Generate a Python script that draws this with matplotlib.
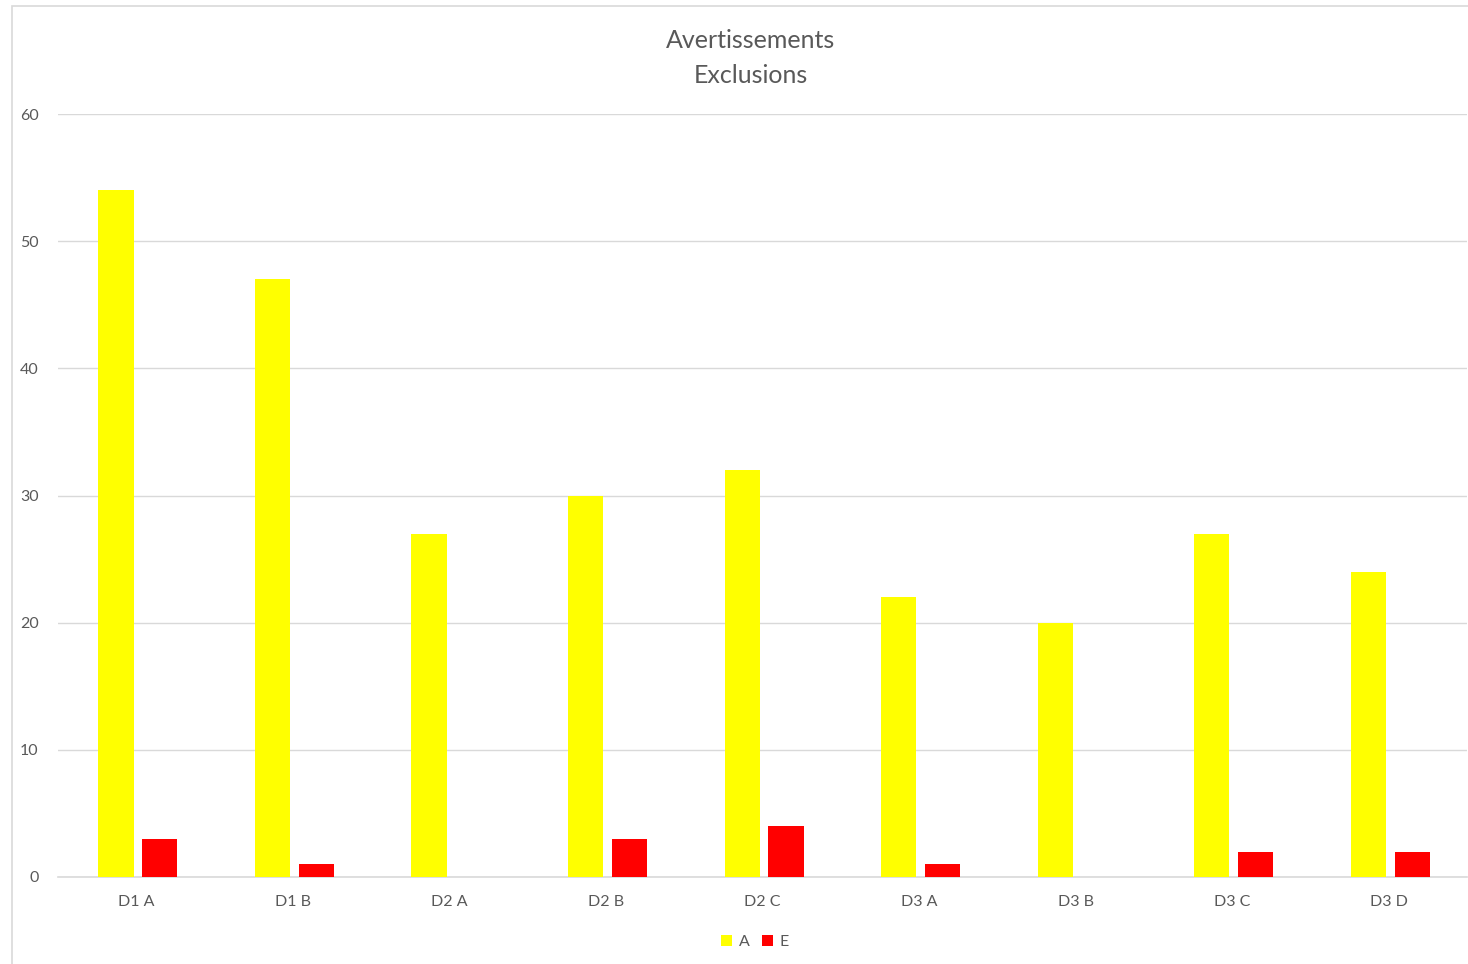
import numpy as np
from matplotlib import pyplot as plt
from matplotlib.patches import Rectangle

# donnees
categories = ["D1 A", "D1 B", "D2 A", "D2 B", "D2 C", "D3 A", "D3 B", "D3 C", "D3 D"]
avert = [54, 47, 27, 30, 32, 22, 20, 27, 24]
excl = [3, 1, 0, 3, 4, 1, 0, 2, 2]

plt.rcParams['font.family'] = ['Lato', 'DejaVu Sans']

fig = plt.figure(figsize=(14.68, 9.64), dpi=100)
ax = fig.add_axes([58 / 1468, 1 - 877 / 964, 1409 / 1468, (877 - 114) / 964])

x = np.arange(len(categories))
w = 0.225
ax.bar(x - 0.13, avert, width=w, color="#ffff00", label="A", zorder=3)
ax.bar(x + 0.15, excl, width=w, color="#ff0000", label="E", zorder=3)

ax.set_xlim(-0.5, len(categories) - 0.5)
ax.set_ylim(0, 60)
ax.set_yticks(range(0, 61, 10))
ax.set_xticks(x)
ax.set_xticklabels(categories)
ax.tick_params(length=0, labelsize=11.5, labelcolor="#595959")
ax.tick_params(axis="x", pad=13)
ax.tick_params(axis="y", pad=14)
ax.grid(axis="y", color="#d9d9d9", linewidth=1, zorder=0)
for s in ["top", "right", "left"]:
    ax.spines[s].set_visible(False)
ax.spines["bottom"].set_color("#d9d9d9")
ax.spines["bottom"].set_linewidth(1.2)

fig.text(751 / 1468, 1 - 58 / 964, "Avertissements\nExclusions", ha="center", va="center",
         fontsize=18, color="#595959", linespacing=1.65)

fig.legend(loc="center", bbox_to_anchor=(755 / 1468, 1 - 942 / 964), ncol=2, frameon=False,
           fontsize=11.5, labelcolor="#595959", handlelength=0.7, handleheight=0.7,
           handletextpad=0.4, columnspacing=0.8)

# cadre du graphique
fig.patches.append(Rectangle((12 / 1468, -0.01), 1.5, 1 - 6 / 964 + 0.01, transform=fig.transFigure,
                             fill=False, edgecolor="#d9d9d9", linewidth=1.2))

fig.savefig("out.png", dpi=100)
